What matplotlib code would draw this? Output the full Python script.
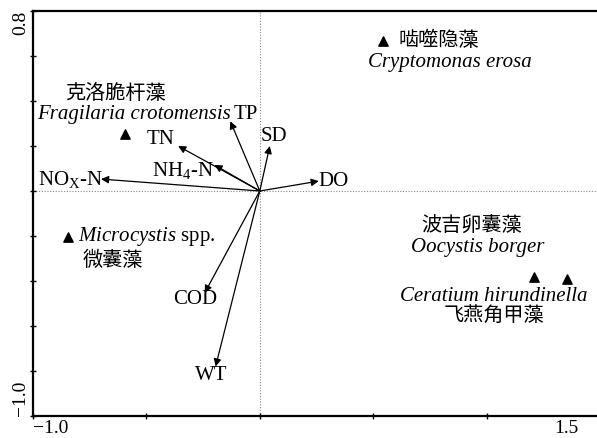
import matplotlib
matplotlib.use("Agg")
import matplotlib.pyplot as plt
import matplotlib.transforms as mtransforms

plt.rcParams['font.family'] = ['Liberation Serif', 'Noto Sans CJK SC']
plt.rcParams['mathtext.fontset'] = 'custom'
plt.rcParams['mathtext.rm'] = 'Liberation Serif'
plt.rcParams['mathtext.it'] = 'Liberation Serif:italic'

# environmental variables (arrow tips)
env_names = ['NO$_\\mathrm{X}$-N', 'NH$_4$-N', 'TN', 'TP', 'SD', 'DO', 'COD', 'WT']
env_x = [-0.70, -0.20, -0.36, -0.13, 0.044, 0.26, -0.243, -0.195]
env_y = [0.053, 0.116, 0.20, 0.31, 0.20, 0.044, -0.453, -0.78]
# label positions
env_lx = [-0.836, -0.34, -0.438, -0.062, 0.062, 0.327, -0.283, -0.212]
env_ly = [0.053, 0.089, 0.231, 0.342, 0.244, 0.044, -0.48, -0.822]

# species scores
sp_x = [-0.593, -0.845, 0.544, 1.21, 1.354]
sp_y = [0.253, -0.204, 0.667, -0.38, -0.39]

xlim = (-1.0, 1.5)
ylim = (-1.0, 0.8)

fig = plt.figure(figsize=(5.97, 4.38), dpi=100)
ax = fig.add_axes([33 / 597, 22 / 438, 567 / 597, 405 / 438])
ax.set_xlim(*xlim)
ax.set_ylim(*ylim)

for s in ['left', 'bottom', 'top']:
    ax.spines[s].set_linewidth(1.6)
ax.spines['right'].set_visible(False)

ax.axvline(0, color='#888888', lw=0.8, ls=(0, (1, 1.5)), zorder=0)
ax.axhline(0, color='#888888', lw=0.8, ls=(0, (1, 1.5)), zorder=0)

# ticks: small marks every 0.5 / 0.2, labels only at the axis ends
ax.set_xticks([-1.0, -0.5, 0.0, 0.5, 1.0, 1.5])
ax.set_xticklabels(['−1.0', '', '', '', '', '1.5'], fontsize=14)
ax.set_yticks([-1.0, -0.8, -0.6, -0.4, -0.2, 0.0, 0.2, 0.4, 0.6, 0.8])
ax.set_yticklabels(['−1.0', '', '', '', '', '', '', '', '', '0.8'], fontsize=14,
                   rotation=90)
ax.tick_params(axis='both', direction='inout', length=4, width=1.0, pad=1)

labs = ax.get_xticklabels()
labs[0].set_horizontalalignment('left')
labs[-1].set_horizontalalignment('right')
labs[-1].set_transform(labs[-1].get_transform() +
                       mtransforms.ScaledTranslation(-0.22, 0, fig.dpi_scale_trans))
ylabs = ax.get_yticklabels()
ylabs[0].set_verticalalignment('bottom')
ylabs[-1].set_verticalalignment('top')
for t in ylabs:
    t.set_horizontalalignment('right')

for x, y in zip(env_x, env_y):
    ax.annotate('', xy=(x, y), xytext=(0, 0),
                arrowprops=dict(arrowstyle='-|>', color='black', lw=0.9,
                                mutation_scale=11, shrinkA=0, shrinkB=0))

for name, lx, ly in zip(env_names, env_lx, env_ly):
    ax.text(lx, ly, name, fontsize=15, ha='center', va='center')

ax.scatter(sp_x, sp_y, marker='^', s=45, color='black', zorder=3)

# species labels
zh = 14.5
en = 15
ax.text(-0.637, 0.431, '克洛脆杆藻', fontsize=zh, ha='center', va='center')
ax.text(-0.982, 0.342, 'Fragilaria crotomensis', fontsize=en, style='italic',
        ha='left', va='center')
ax.text(0.79, 0.667, '啮噬隐藻', fontsize=zh, ha='center', va='center')
ax.text(0.84, 0.573, 'Cryptomonas erosa', fontsize=en, style='italic',
        ha='center', va='center')
ax.text(-0.80, -0.20, '$\\mathit{Microcystis}$ spp.', fontsize=en,
        ha='left', va='center')
ax.text(-0.646, -0.311, '微囊藻', fontsize=zh, ha='center', va='center')
ax.text(0.934, -0.16, '波吉卵囊藻', fontsize=zh, ha='center', va='center')
ax.text(0.96, -0.249, 'Oocystis borger', fontsize=en, style='italic',
        ha='center', va='center')
ax.text(1.031, -0.467, 'Ceratium hirundinella', fontsize=en, style='italic',
        ha='center', va='center')
ax.text(1.031, -0.56, '飞燕角甲藻', fontsize=zh, ha='center', va='center')

fig.savefig('out.png', dpi=100)
